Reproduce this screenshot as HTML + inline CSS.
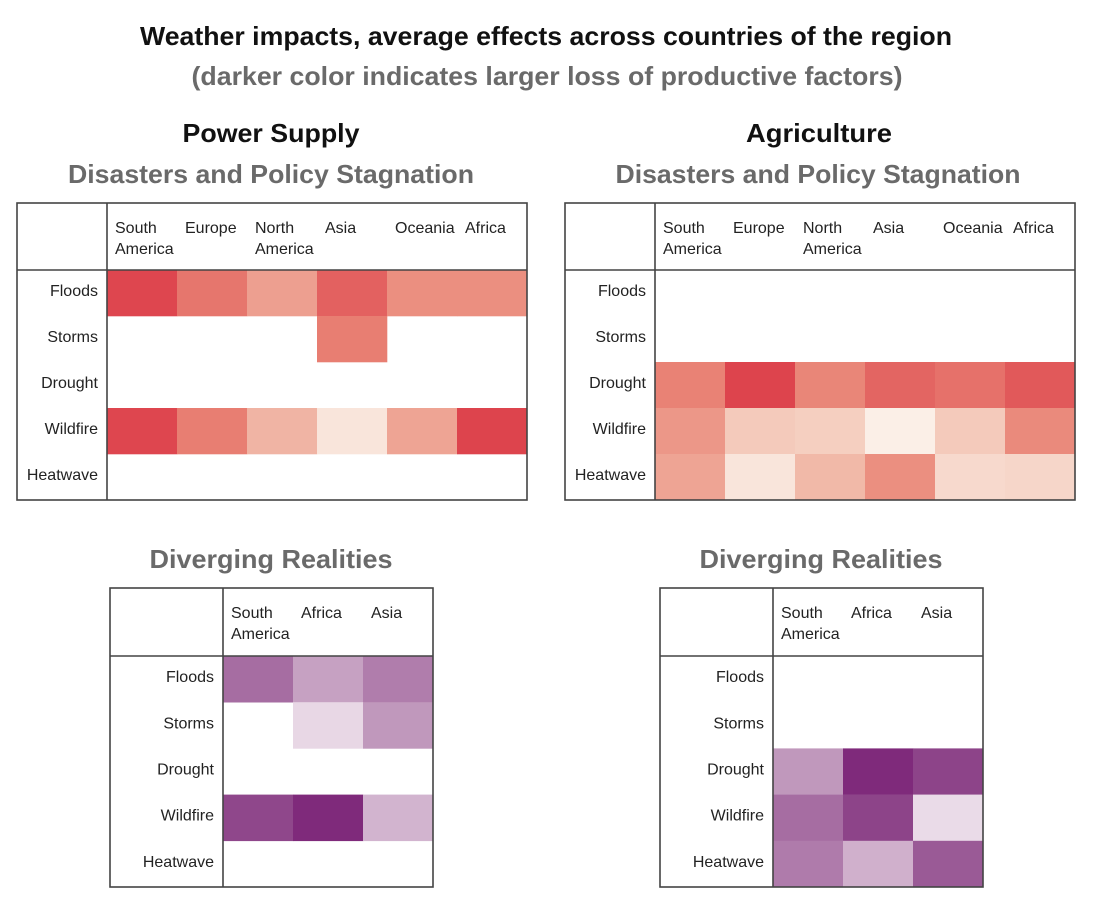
<!DOCTYPE html>
<html><head><meta charset="utf-8"><style>
html,body{margin:0;padding:0;background:#fff;}
svg{display:block;font-family:"Liberation Sans",sans-serif;}
</style></head><body>
<svg id="chart" width="1100" height="904" viewBox="0 0 1100 904" xmlns="http://www.w3.org/2000/svg">
<text x="546" y="45" text-anchor="middle" font-size="26" font-weight="bold" fill="#111" textLength="812" lengthAdjust="spacingAndGlyphs">Weather impacts, average effects across countries of the region</text>
<text x="547" y="85" text-anchor="middle" font-size="26" font-weight="bold" fill="#6a6a6a" textLength="711" lengthAdjust="spacingAndGlyphs">(darker color indicates larger loss of productive factors)</text>
<text x="271" y="142" text-anchor="middle" font-size="26" font-weight="bold" fill="#111" textLength="177" lengthAdjust="spacingAndGlyphs">Power Supply</text>
<text x="271" y="183" text-anchor="middle" font-size="26" font-weight="bold" fill="#6a6a6a" textLength="406" lengthAdjust="spacingAndGlyphs">Disasters and Policy Stagnation</text>
<text x="819" y="142" text-anchor="middle" font-size="26" font-weight="bold" fill="#111" textLength="146" lengthAdjust="spacingAndGlyphs">Agriculture</text>
<text x="818" y="183" text-anchor="middle" font-size="26" font-weight="bold" fill="#6a6a6a" textLength="405" lengthAdjust="spacingAndGlyphs">Disasters and Policy Stagnation</text>
<text x="271" y="568" text-anchor="middle" font-size="26" font-weight="bold" fill="#6a6a6a" textLength="243" lengthAdjust="spacingAndGlyphs">Diverging Realities</text>
<text x="821" y="568" text-anchor="middle" font-size="26" font-weight="bold" fill="#6a6a6a" textLength="243" lengthAdjust="spacingAndGlyphs">Diverging Realities</text>
</svg>
<script>
const rows = ["Floods","Storms","Drought","Wildfire","Heatwave"];
const regions6 = [["South","America"],["Europe"],["North","America"],["Asia"],["Oceania"],["Africa"]];
const regions3 = [["South","America"],["Africa"],["Asia"]];
const powerDisasters = [
  [0.95,0.72,0.52,0.82,0.6,0.6],
  [null,null,null,0.68,null,null],
  [null,null,null,null,null,null],
  [0.95,0.68,0.42,0.12,0.5,0.96],
  [null,null,null,null,null,null]
];
const agriDisasters = [
  [null,null,null,null,null,null],
  [null,null,null,null,null,null],
  [0.66,0.96,0.64,0.8,0.74,0.86],
  [0.56,0.3,0.27,0.05,0.3,0.62],
  [0.5,0.12,0.4,0.6,0.2,0.22]
];
const powerDiverging = [
  [0.62,0.4,0.55],
  [null,0.12,0.44],
  [null,null,null],
  [0.82,1.0,0.3],
  [null,null,null]
];
const agriDiverging = [
  [null,null,null],
  [null,null,null],
  [0.44,1.0,0.84],
  [0.62,0.84,0.1],
  [0.56,0.32,0.7]
];
const redStops=[[0,[253,246,240]],[0.35,[242,195,178]],[0.65,[233,132,118]],[1,[220,60,72]]];
const purpleStops=[[0,[246,238,244]],[0.4,[198,161,194]],[0.7,[154,90,150]],[1,[127,42,123]]];
function colorScale(stops,v){
  for(let i=1;i<stops.length;i++){
    if(v<=stops[i][0]){
      const a=stops[i-1],b=stops[i],t=(v-a[0])/(b[0]-a[0]);
      const c=a[1].map((x,k)=>Math.round(x+(b[1][k]-x)*t));
      return `rgb(${c[0]},${c[1]},${c[2]})`;
    }
  }
  const l=stops[stops.length-1][1];return `rgb(${l[0]},${l[1]},${l[2]})`;
}
const svg=document.getElementById('chart');
const NS='http://www.w3.org/2000/svg';
function mk(tag,attrs){const e=document.createElementNS(NS,tag);for(const k in attrs)e.setAttribute(k,attrs[k]);svg.appendChild(e);return e;}
function panel(name,x0,x1,labelRight,y0,headerBottom,y1,cols,data,stops){
  const nC=cols.length, cw=(x1-labelRight)/nC, rh=(y1-headerBottom)/rows.length;
  const xPos=i=>labelRight+i*cw, yPos=j=>headerBottom+j*rh;
  data.forEach((row,j)=>row.forEach((v,i)=>{
    if(v===null)return;
    const r=mk('rect',{x:xPos(i),y:yPos(j),width:cw+0.3,height:rh+0.3,fill:colorScale(stops,v)});
    
    
  }));
  const b=mk('rect',{x:x0,y:y0,width:x1-x0,height:y1-y0,fill:'none',stroke:'#444','stroke-width':1.6});
  
  
  const h=mk('line',{x1:x0,x2:x1,y1:headerBottom,y2:headerBottom,stroke:'#444','stroke-width':1.6});
  
  
  const v=mk('line',{x1:labelRight,x2:labelRight,y1:y0,y2:y1,stroke:'#444','stroke-width':1.6});
  
  
  cols.forEach((c,i)=>{
    c.forEach((ln,k)=>{
      const t=mk('text',{x:xPos(i)+8,y:y0+30+k*21,'font-size':16,fill:'#222'});
      t.textContent=ln;
      
      
    });
  });
  rows.forEach((r,j)=>{
    const t=mk('text',{x:labelRight-9,y:yPos(j)+rh/2+3,'font-size':16,fill:'#222','text-anchor':'end'});
    t.textContent=r;
    
    
  });
}
panel('power-disasters',17,527,107,203,270,500,regions6,powerDisasters,redStops);
panel('agri-disasters',565,1075,655,203,270,500,regions6,agriDisasters,redStops);
panel('power-diverging',110,433,223,588,656,887,regions3,powerDiverging,purpleStops);
panel('agri-diverging',660,983,773,588,656,887,regions3,agriDiverging,purpleStops);
</script>
</body></html>
